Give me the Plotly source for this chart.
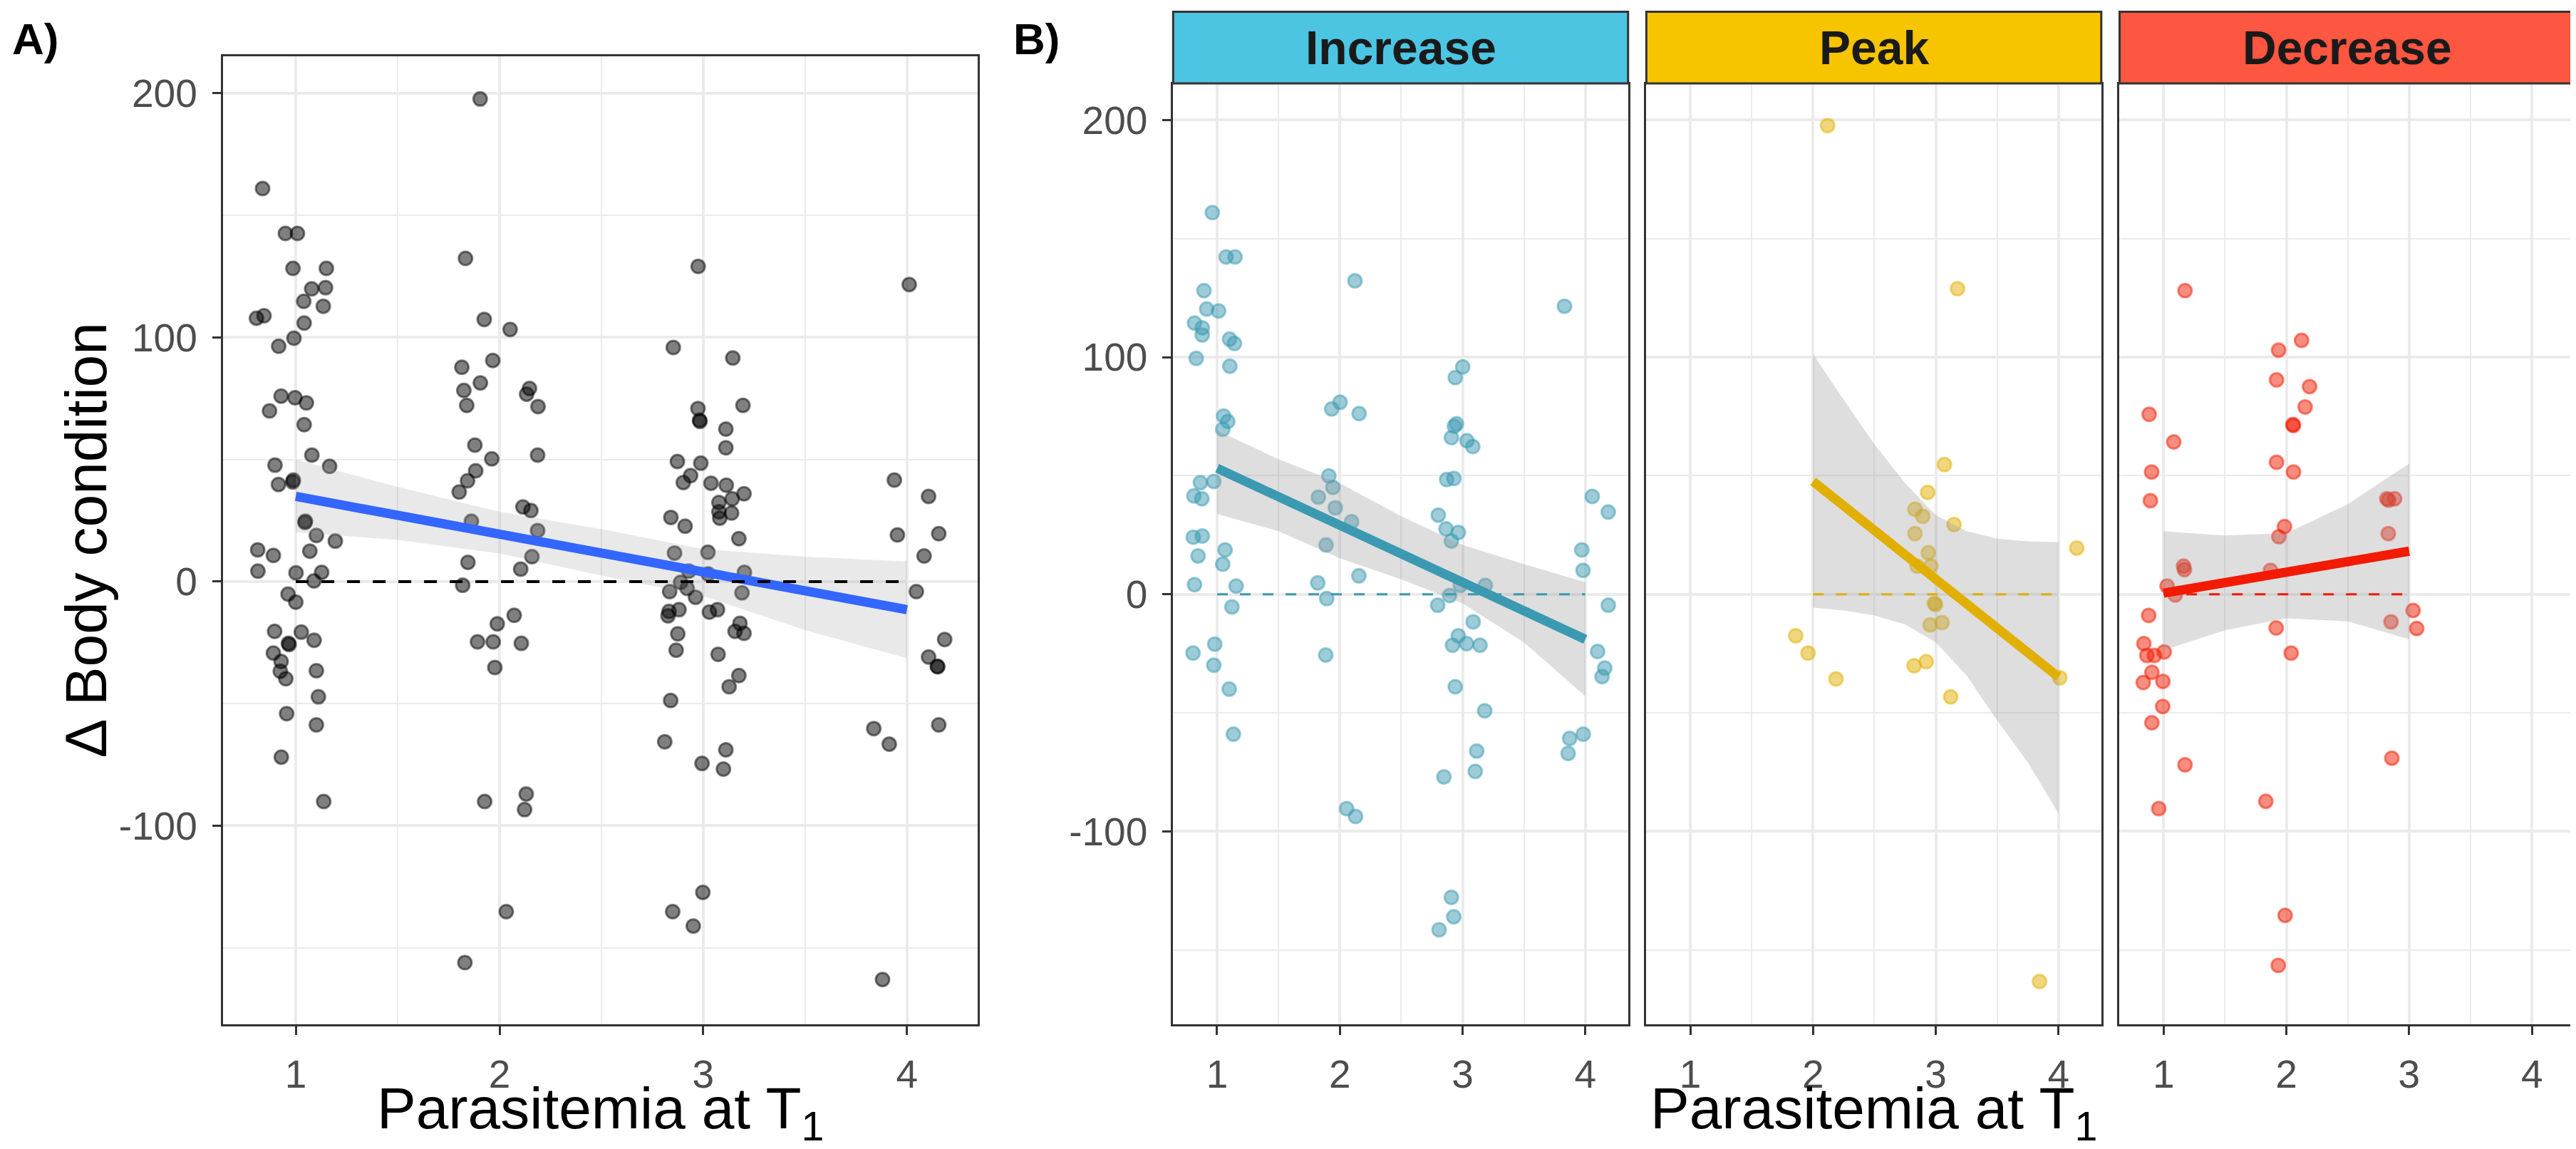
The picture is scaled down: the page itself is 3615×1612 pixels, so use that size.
import plotly.graph_objects as go

# ---- data ----
# panel A: all birds (jittered x, change in body condition)
a_x = [0.837, 0.949, 1.008, 0.986, 1.150, 1.078, 1.146, 1.039, 1.135, 0.807, 0.844, 1.041, 0.991, 0.916,
       0.928, 0.996, 1.052, 0.871, 1.041, 0.898, 1.079, 1.166, 0.915, 0.985, 0.988, 1.045, 1.047, 1.101,
       1.194, 0.813, 0.890, 1.069, 0.814, 1.001, 1.127, 1.089, 0.962, 1.000, 0.896, 1.027, 0.964, 0.967,
       1.090, 0.890, 0.928, 0.924, 0.951, 1.101, 1.111, 0.955, 1.101, 0.929, 1.137,
       1.905, 1.833, 1.925, 2.052, 1.967, 1.815, 1.906, 1.825, 1.839, 2.147, 2.133, 2.189, 1.879, 1.962,
       2.187, 1.883, 1.843, 1.802, 1.862, 2.115, 2.154, 2.187, 2.159, 1.845, 2.104, 1.819, 2.072, 1.989,
       1.892, 1.969, 2.107, 1.977, 1.927, 2.131, 2.123, 2.033, 1.830,
       2.975, 2.853, 3.145, 2.974, 2.982, 2.984, 3.195, 3.111, 3.111, 2.873, 2.988, 2.938, 2.902, 3.038,
       3.113, 3.142, 3.200, 3.077, 3.077, 3.081, 3.139, 2.841, 2.911, 3.175, 2.859, 3.023, 2.929, 3.024,
       3.202, 2.889, 2.835, 2.921, 2.962, 3.190, 2.881, 2.832, 2.827, 3.030, 3.070, 3.180, 3.156, 3.200,
       2.875, 2.867, 3.073, 3.175, 3.127, 2.840, 2.811, 3.111, 2.994, 3.099, 2.998, 2.850, 2.951,
       4.011, 3.938, 4.106, 3.953, 4.156, 4.084, 4.046, 4.185, 4.106, 4.149, 4.151, 3.837, 3.913, 4.156,
       3.880]
a_y = [161.0, 142.6, 142.6, 128.3, 128.3, 119.9, 120.4, 114.8, 112.8, 107.9, 108.9, 105.9, 99.7, 96.4,
       76.0, 75.3, 73.2, 69.9, 64.3, 47.7, 51.8, 47.2, 39.8, 40.8, 41.6, 24.2, 24.7, 18.9,
       16.6, 13.0, 10.7, 12.5, 4.3, 3.6, 3.8, 0.3, -5.1, -8.4, -20.4, -20.7, -25.3, -25.8,
       -24.0, -29.3, -32.7, -36.7, -39.8, -36.5, -47.2, -54.1, -58.7, -71.9, -90.1,
       197.7, 132.4, 107.4, 103.3, 90.6, 87.8, 81.4, 78.3, 72.2, 79.1, 76.8, 71.7, 55.9, 50.3,
       51.8, 45.4, 41.3, 36.7, 24.7, 30.6, 29.1, 20.9, 10.2, 7.9, 5.1, -1.5, -13.8, -17.3,
       -24.7, -24.7, -25.3, -35.2, -90.1, -87.0, -93.4, -135.2, -156.1,
       129.1, 95.9, 91.6, 70.9, 66.1, 65.6, 72.2, 62.5, 54.8, 49.2, 48.5, 43.4, 40.6, 40.3,
       39.5, 33.9, 36.0, 32.4, 28.6, 26.0, 28.1, 26.3, 22.7, 17.6, 11.7, 12.0, 4.3, 3.1,
       3.8, -0.3, -4.1, -2.8, -6.4, -4.6, -11.5, -12.2, -14.0, -12.5, -11.5, -17.1, -20.4, -21.2,
       -21.4, -28.1, -29.8, -38.5, -43.1, -48.7, -65.6, -68.9, -74.5, -76.8, -127.3, -135.2, -141.1,
       121.7, 41.6, 34.9, 19.1, 19.6, 10.5, -4.1, -23.7, -30.9, -34.7, -34.9, -60.2, -66.6, -58.7,
       -163.0]
a_fit_x = [1, 4]
a_fit_y = [34.9, -11.5]
a_band_x = [1, 1.5, 2, 2.5, 3, 3.5, 4]
a_band_hi = [50.0, 38.8, 28.6, 21.5, 13.3, 10.2, 8.2]
a_band_lo = [20.2, 17.1, 11.5, 2.5, -5.9, -19.9, -31.4]
a_zero_x = [1, 4]

# panel B: Increase
inc_x = [0.961, 1.073, 1.146, 0.893, 0.915, 1.012, 0.816, 0.879, 0.879, 1.102, 1.141, 0.830, 1.104,
         1.053, 1.087, 1.046, 0.864, 0.973, 0.811, 0.876, 0.806, 0.879, 1.065, 0.845, 1.046, 0.816,
         1.155, 1.121, 0.804, 0.981, 0.973, 1.099, 1.133,
         2.123, 2.002, 1.934, 2.157, 1.910, 1.943, 1.825, 1.963, 2.096, 1.888, 2.155, 1.820, 1.893,
         1.885, 2.055, 2.128,
         3.001, 2.940, 2.933, 2.950, 2.909, 3.035, 3.083, 2.870, 2.929, 2.802, 2.865, 2.965, 2.909,
         2.982, 3.185, 2.894, 2.797, 3.086, 2.965, 2.918, 3.032, 3.142, 2.940, 3.180, 3.115, 3.103,
         2.848, 2.909, 2.928, 2.809,
         3.830, 4.056, 4.187, 3.971, 3.981, 4.187, 4.100, 4.158, 4.136, 3.983, 3.872, 3.860]
inc_y = [161.0, 142.3, 142.3, 128.1, 120.3, 119.5, 114.4, 112.4, 109.4, 107.6, 105.8, 99.5, 96.2,
         75.2, 72.9, 69.6, 47.1, 47.6, 41.5, 40.3, 24.1, 24.6, 18.7, 16.2, 12.7, 4.1,
         3.5, -5.3, -24.8, -21.0, -29.9, -40.0, -59.0,
         132.2, 81.0, 78.2, 76.2, 49.9, 45.1, 41.0, 36.5, 30.6, 20.8, 7.8, 4.8, -1.8,
         -25.6, -90.4, -93.7,
         95.9, 91.4, 70.9, 71.9, 66.1, 64.8, 62.3, 48.4, 48.9, 33.4, 27.6, 26.1, 22.5,
         3.8, 3.8, -0.5, -4.6, -11.6, -17.5, -21.5, -20.8, -21.5, -39.0, -49.1, -66.1, -74.7,
         -77.0, -127.8, -136.0, -141.5,
         121.5, 41.3, 34.7, 18.7, 10.1, -4.6, -24.1, -31.1, -34.7, -59.0, -60.8, -67.1]
inc_fit_x = [1, 4]
inc_fit_y = [53.2, -19.0]
inc_band_x = [1, 1.5, 2, 2.5, 3, 3.5, 4]
inc_band_hi = [69.1, 57.0, 46.8, 32.9, 20.8, 12.7, 5.1]
inc_band_lo = [33.9, 26.6, 15.2, 6.3, -3.8, -20.3, -43.0]
inc_zero_x = [1, 4]

# panel B: Peak
peak_x = [2.119, 3.177, 3.070, 2.934, 2.830, 2.893, 3.148, 2.830, 2.939, 2.847, 2.959, 4.148, 2.988,
          2.998, 2.954, 3.051, 1.859, 1.959, 2.187, 2.823, 2.922, 3.121, 4.010, 3.845]
peak_y = [197.7, 128.9, 54.7, 43.0, 35.9, 32.9, 29.4, 25.6, 17.5, 11.9, 11.9, 19.5, -3.8,
          -4.3, -12.9, -11.9, -17.5, -24.8, -35.7, -30.1, -28.4, -43.3, -35.2, -163.3]
peak_fit_x = [2, 4]
peak_fit_y = [47.6, -34.9]
peak_band_x = [2, 2.25, 2.5, 2.75, 3, 3.25, 3.5, 3.75, 4]
peak_band_hi = [101.3, 82.0, 63.3, 46.8, 33.4, 26.6, 23.5, 22.3, 22.0]
peak_band_lo = [-5.6, -6.8, -8.9, -12.7, -20.3, -34.2, -53.2, -70.9, -92.4]
peak_zero_x = [2, 4]

# panel B: Decrease
dec_x = [1.175, 0.883, 1.083, 0.903, 0.893, 1.163, 1.170, 1.029, 1.095, 0.879, 0.840, 0.864, 0.925,
         1.005, 0.905, 0.835, 0.995, 0.993, 0.905, 1.175, 0.961,
         2.124, 1.937, 1.920, 2.189, 2.153, 2.053, 2.058, 1.920, 2.058, 1.985, 1.939, 1.871, 1.917,
         2.039, 1.833, 1.990, 1.934,
         2.818, 2.881, 2.833, 2.830, 3.032, 3.061, 2.852, 2.859]
dec_y = [128.1, 75.9, 64.3, 51.6, 39.5, 11.9, 10.4, 3.5, -0.3, -8.9, -20.8, -25.8, -25.8,
         -24.3, -32.9, -37.2, -36.7, -47.3, -54.2, -71.9, -90.4,
         107.1, 103.0, 90.4, 87.6, 79.0, 71.6, 71.2, 55.7, 51.6, 28.6, 24.3, 10.1, -14.2,
         -24.8, -87.3, -135.4, -156.5,
         40.3, 40.3, 39.7, 25.6, -6.8, -14.4, -11.6, -69.1]
dec_fit_x = [1, 3]
dec_fit_y = [0.5, 18.2]
dec_band_x = [1, 1.5, 2, 2.5, 3]
dec_band_hi = [26.6, 24.8, 25.8, 38.0, 55.2]
dec_band_lo = [-23.5, -15.2, -10.1, -11.4, -19.0]
dec_zero_x = [1, 3]

facet_names = ['Increase', 'Peak', 'Decrease']
facet_line_colors = ['#3B9AB2', '#E1AF00', '#F21A00']
facet_point_colors = ['rgba(59,154,178,0.5)', 'rgba(225,175,0,0.5)', 'rgba(242,26,0,0.5)']
strip_colors = ['#4CC5E3', '#F6C500', '#FD5641']

x_ticks = [1, 2, 3, 4]
y_ticks = [-100, 0, 100, 200]
y_tick_text = ['-100', '0', '100', '200']

# ---- layout geometry ----
FONT = 'Liberation Sans, Arial, sans-serif'
x_range = [0.642, 4.348]
y_range = [-181.2, 215.2]
a_dom = [0.0843, 0.3774]
facet_doms = [[0.4532, 0.6298], [0.6369, 0.8135], [0.8206, 0.9973]]
a_ydom = [0.1138, 0.9560]
b_ydom = [0.1138, 0.9318]
strip_y = [0.9324, 0.9948]

fig = go.Figure()


def add_panel(ax, px, py, pcol, fx, fy, lcol, bx, bhi, blo, band_col, zx, zcol, zdash):
    xa, ya = 'x' + ax, 'y' + ax
    fig.add_trace(go.Scatter(x=px, y=py, mode='markers', xaxis=xa, yaxis=ya,
                             marker=dict(size=19, color=pcol, line=dict(color=pcol, width=3)),
                             showlegend=False, hoverinfo='skip'))
    fig.add_trace(go.Scatter(x=bx + bx[::-1], y=bhi + blo[::-1], mode='lines', fill='toself',
                             xaxis=xa, yaxis=ya, fillcolor=band_col, line=dict(width=0),
                             showlegend=False, hoverinfo='skip'))
    fig.add_trace(go.Scatter(x=fx, y=fy, mode='lines', xaxis=xa, yaxis=ya,
                             line=dict(color=lcol, width=13), showlegend=False))
    fig.add_trace(go.Scatter(x=zx, y=[0, 0], mode='lines', xaxis=xa, yaxis=ya,
                             line=dict(color=zcol, width=zdash[0], dash=zdash[1]),
                             showlegend=False, hoverinfo='skip'))


add_panel('', a_x, a_y, 'rgba(0,0,0,0.5)', a_fit_x, a_fit_y, '#3366FF',
          a_band_x, a_band_hi, a_band_lo, 'rgba(153,153,153,0.22)', a_zero_x, 'black', (4, '18px,18px'))
groups = [
    (inc_x, inc_y, inc_fit_x, inc_fit_y, inc_band_x, inc_band_hi, inc_band_lo, inc_zero_x),
    (peak_x, peak_y, peak_fit_x, peak_fit_y, peak_band_x, peak_band_hi, peak_band_lo, peak_zero_x),
    (dec_x, dec_y, dec_fit_x, dec_fit_y, dec_band_x, dec_band_hi, dec_band_lo, dec_zero_x),
]
for i, g in enumerate(groups):
    add_panel(str(i + 2), g[0], g[1], facet_point_colors[i], g[2], g[3], facet_line_colors[i],
              g[4], g[5], g[6], 'rgba(153,153,153,0.32)', g[7], facet_line_colors[i], (3, '15px,17px'))

axis_common = dict(showline=True, mirror=True, linecolor='#333333', linewidth=3,
                   showgrid=True, gridcolor='#EBEBEB', gridwidth=4, zeroline=False,
                   ticks='outside', ticklen=12, tickwidth=3, tickcolor='#333333',
                   tickfont=dict(family=FONT, size=55, color='#4D4D4D'))

layout = dict(width=3615, height=1612, margin=dict(l=0, r=0, t=0, b=0),
              paper_bgcolor='white', plot_bgcolor='white', showlegend=False)

layout['xaxis'] = dict(axis_common, domain=a_dom, range=x_range, tickvals=x_ticks, anchor='y',
                       minor=dict(tickvals=[1.5, 2.5, 3.5], showgrid=True, gridcolor='#EBEBEB', gridwidth=2),
                       ticklabelstandoff=8)
layout['yaxis'] = dict(axis_common, domain=a_ydom, range=y_range, tickvals=y_ticks, ticktext=y_tick_text,
                       anchor='x', ticklabelstandoff=10,
                       minor=dict(tickvals=[-150, -50, 50, 150], showgrid=True, gridcolor='#EBEBEB', gridwidth=2))
for i in range(3):
    n = str(i + 2)
    layout['xaxis' + n] = dict(axis_common, domain=facet_doms[i], range=x_range, tickvals=x_ticks,
                               anchor='y' + n, ticklabelstandoff=8,
                               minor=dict(tickvals=[1.5, 2.5, 3.5], showgrid=True, gridcolor='#EBEBEB', gridwidth=2))
    ydict = dict(axis_common, domain=b_ydom, range=y_range, tickvals=y_ticks, ticktext=y_tick_text,
                 anchor='x' + n, ticklabelstandoff=10,
                 minor=dict(tickvals=[-150, -50, 50, 150], showgrid=True, gridcolor='#EBEBEB', gridwidth=2))
    if i > 0:
        ydict['showticklabels'] = False
        ydict['ticks'] = ''
    layout['yaxis' + n] = ydict

shapes = []
annotations = []
for i in range(3):
    shapes.append(dict(type='rect', xref='paper', yref='paper',
                       x0=facet_doms[i][0], x1=facet_doms[i][1], y0=strip_y[0], y1=strip_y[1],
                       fillcolor=strip_colors[i], line=dict(color='#333333', width=3), layer='above'))
    annotations.append(dict(text='<b>' + facet_names[i] + '</b>', xref='paper', yref='paper',
                            x=sum(facet_doms[i]) / 2, y=sum(strip_y) / 2, showarrow=False,
                            xanchor='center', yanchor='middle',
                            font=dict(family=FONT, size=66, color='#1A1A1A')))

title_font = dict(family=FONT, size=82, color='black')
annotations += [
    dict(text='<b>A)</b>', xref='paper', yref='paper', x=0.002, y=0.971, showarrow=False,
         xanchor='left', yanchor='middle', font=dict(family=FONT, size=62, color='black')),
    dict(text='<b>B)</b>', xref='paper', yref='paper', x=0.3906, y=0.971, showarrow=False,
         xanchor='left', yanchor='middle', font=dict(family=FONT, size=62, color='black')),
    dict(text='Δ Body condition', xref='paper', yref='paper', x=0.031, y=0.5347, textangle=-90,
         showarrow=False, xanchor='center', yanchor='middle', font=title_font),
    dict(text='Parasitemia at T<sub>1</sub>', xref='paper', yref='paper', x=sum(a_dom) / 2, y=0.004,
         showarrow=False, xanchor='center', yanchor='bottom', font=title_font),
    dict(text='Parasitemia at T<sub>1</sub>', xref='paper', yref='paper',
         x=(facet_doms[0][0] + facet_doms[2][1]) / 2, y=0.004,
         showarrow=False, xanchor='center', yanchor='bottom', font=title_font),
]
layout['shapes'] = shapes
layout['annotations'] = annotations

fig.update_layout(layout)
fig.write_html("out.html")
